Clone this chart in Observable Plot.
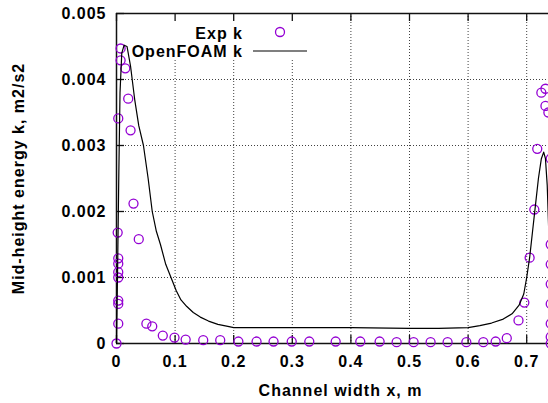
<!DOCTYPE html>
<html><head><meta charset="utf-8">
<script src="https://cdn.jsdelivr.net/npm/d3@7"></script>
<script src="https://cdn.jsdelivr.net/npm/@observablehq/plot@0.6"></script>
<style>html,body{margin:0;padding:0;background:#fff;}</style>
</head><body><div id="chart"></div>
<script>
// ---- data ----
const xTicks = [0, 0.1, 0.2, 0.3, 0.4, 0.5, 0.6, 0.7];
const xTickLabels = ["0", "0.1", "0.2", "0.3", "0.4", "0.5", "0.6", "0.7"];
const yTicks = [0, 0.001, 0.002, 0.003, 0.004, 0.005];
const yTickLabels = ["0", "0.001", "0.002", "0.003", "0.004", "0.005"];
const xDomain = [0, 0.7372];
const yDomain = [0, 0.005];
const xLabel = "Channel width x, m";
const yLabel = "Mid-height energy k, m2/s2";
const seriesNames = ["Exp k", "OpenFOAM k"];

// Experimental points
const expX = [0, 0.003, 0.003, 0.003, 0.003, 0.003, 0.003, 0.003, 0.002, 0.003,
  0.007, 0.007, 0.015, 0.020, 0.024, 0.029, 0.038, 0.051, 0.061, 0.079,
  0.099, 0.118, 0.148, 0.177, 0.208, 0.239, 0.268, 0.299, 0.329, 0.374,
  0.416, 0.449, 0.478, 0.507, 0.536, 0.565, 0.597, 0.626, 0.647, 0.666,
  0.686, 0.696, 0.705, 0.713, 0.718, 0.725, 0.732, 0.732, 0.737, 0.741,
  0.741, 0.741, 0.741, 0.741, 0.741, 0.741, 0.741];
const expK = [0, 0.0003, 0.0006, 0.00065, 0.001, 0.00108, 0.00121, 0.00129, 0.00168, 0.00341,
  0.00447, 0.00429, 0.00417, 0.00371, 0.00323, 0.00212, 0.00158, 0.0003, 0.00026, 0.00012,
  0.00009, 0.00006, 0.00005, 0.00005, 0.00003, 0.00003, 0.00003, 0.00003, 0.00003, 0.00003,
  0.00003, 0.00003, 0.00002, 0.00002, 0.00002, 0.00002, 0.00002, 0.00002, 0.00003, 0.00008,
  0.00035, 0.00062, 0.0013, 0.00203, 0.00295, 0.0038, 0.00386, 0.0036, 0.0035, 0.0028,
  0.0015, 0.0012, 0.0009, 0.0006, 0.0003, 0.0001, 0];

// OpenFOAM curve
const ofX = [0, 0.002, 0.004, 0.006, 0.009, 0.013, 0.018, 0.024, 0.031, 0.038,
  0.046, 0.054, 0.061, 0.068, 0.075, 0.084, 0.093, 0.102, 0.11, 0.12,
  0.131, 0.143, 0.157, 0.173, 0.19, 0.2, 0.3, 0.4, 0.5, 0.55,
  0.6, 0.62, 0.64, 0.66, 0.675, 0.687, 0.695, 0.7, 0.705, 0.71,
  0.715, 0.72, 0.725, 0.729, 0.732, 0.735, 0.738, 0.741, 0.744];
const ofK = [0, 0.0012, 0.0026, 0.0038, 0.0044, 0.00452, 0.0045, 0.0042, 0.0037, 0.0033,
  0.003, 0.0025, 0.002, 0.0017, 0.0015, 0.0012, 0.001, 0.0008, 0.00066, 0.00056,
  0.00047, 0.0004, 0.00034, 0.00029, 0.00026, 0.00024, 0.00024, 0.00024, 0.00023, 0.00023,
  0.00024, 0.00027, 0.00031, 0.00037, 0.00045, 0.00058, 0.00075, 0.001, 0.0013, 0.0017,
  0.0021, 0.0025, 0.0028, 0.0029, 0.0028, 0.0024, 0.0016, 0.0008, 0];

const expData = expX.map((x, i) => ({x, k: expK[i]}));
const ofData = ofX.map((x, i) => ({x, k: ofK[i]}));

const W = 548, H = 403, mL = 116, mT = 13, mB = 60, mR = 0;
const frameW = W - mL - mR, frameH = H - mT - mB;
const tick = 8;
const purple = "#9400d3";
const fontFamily = "'Liberation Sans', Arial, sans-serif";
const gridStyle = {stroke: "#000", strokeOpacity: 0.75, strokeDasharray: "1,2", strokeWidth: 1};

const svg = Plot.plot({
  width: W, height: H,
  marginLeft: mL, marginTop: mT, marginBottom: mB, marginRight: mR,
  style: {fontFamily, fontSize: "16px", fontWeight: "bold", letterSpacing: "1px", background: "#fff", color: "#000", overflow: "hidden"},
  x: {domain: xDomain, axis: null},
  y: {domain: yDomain, axis: null},
  marks: [
    // grid (x grid lines under the key box start below it)
    Plot.gridX(xTicks.slice(1, 4), {...gridStyle, insetTop: 47}),
    Plot.gridX(xTicks.slice(4), {...gridStyle}),
    Plot.gridY(yTicks.slice(1, 5), {...gridStyle}),
    // border
    Plot.ruleX([xDomain[0]], {stroke: "#111", strokeWidth: 1.5}),
    Plot.ruleY(yDomain, {stroke: "#111", strokeWidth: 1.5}),
    // inward ticks
    Plot.ruleX(xTicks, {stroke: "#111", strokeWidth: 1.3, insetTop: frameH - tick}),
    Plot.ruleX(xTicks, {stroke: "#111", strokeWidth: 1.3, insetBottom: frameH - tick}),
    Plot.ruleY(yTicks, {stroke: "#111", strokeWidth: 1.3, insetRight: frameW - tick}),
    // tick labels
    Plot.axisX(xTicks, {anchor: "bottom", tickSize: 0, tickPadding: 12, label: null,
      tickFormat: d => xTickLabels[xTicks.indexOf(d)]}),
    Plot.axisY(yTicks, {anchor: "left", tickSize: 0, tickPadding: 10, label: null,
      tickFormat: d => yTickLabels[yTicks.indexOf(d)]}),
    // axis titles
    Plot.text([xLabel], {text: d => d, frameAnchor: "bottom", textAnchor: "middle", dx: 8, dy: 47, lineAnchor: "middle"}),
    Plot.text([yLabel], {text: d => d, frameAnchor: "left", textAnchor: "middle", rotate: -90, dx: -98, lineAnchor: "middle"}),
    // data
    Plot.dot(expData, {x: "x", y: "k", r: 4.5, stroke: purple, strokeWidth: 1.3, fill: "none"}),
    Plot.line(ofData, {x: "x", y: "k", stroke: "#000", strokeWidth: 1.2})
  ]
});

// key drawn inside the plot, top-left
const g = d3.select(svg).append("g")
  .attr("font-family", fontFamily)
  .attr("font-size", 16).attr("font-weight", "bold").attr("letter-spacing", "1px");
g.append("text").attr("x", 243).attr("y", 33).attr("dy", "0.35em").attr("text-anchor", "end").text(seriesNames[0]);
g.append("circle").attr("cx", 280).attr("cy", 32).attr("r", 4.5).attr("fill", "none").attr("stroke", purple).attr("stroke-width", 1.3);
g.append("text").attr("x", 243).attr("y", 51).attr("dy", "0.35em").attr("text-anchor", "end").text(seriesNames[1]);
g.append("line").attr("x1", 253).attr("x2", 307).attr("y1", 51).attr("y2", 51).attr("stroke", "#000").attr("stroke-width", 1.2);

document.getElementById("chart").appendChild(svg);
</script>
</body></html>
